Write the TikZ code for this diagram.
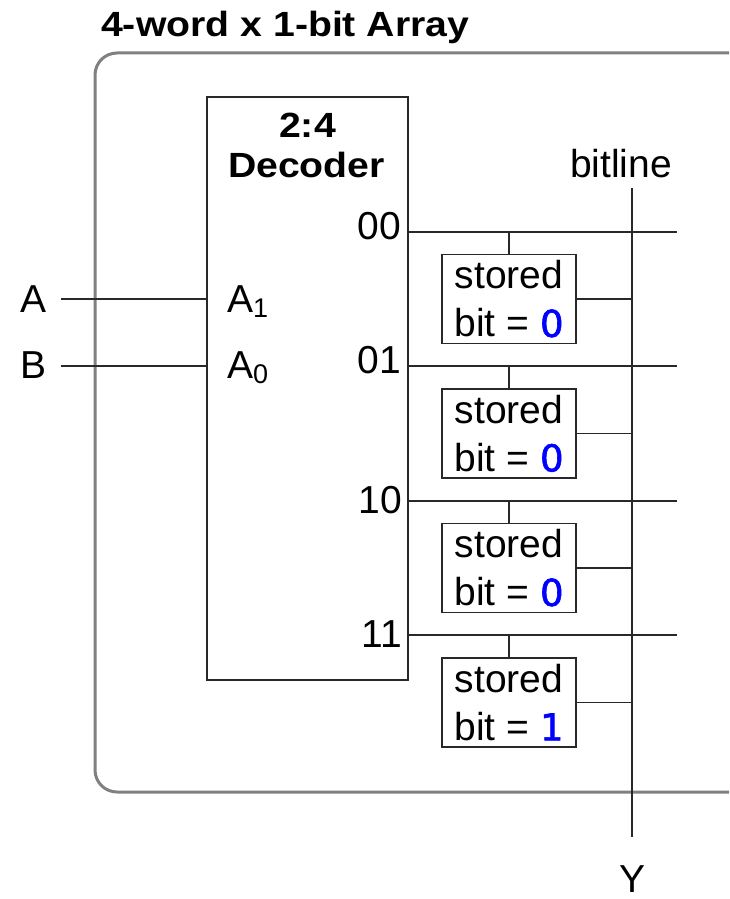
\documentclass[tikz,border=0pt]{standalone}
\usepackage{fontspec}
\setmainfont{Liberation Sans}
\newfontfamily\widebold{Liberation Sans}[FakeStretch=1.12]
\newfontfamily\bitfont{DejaVu Sans}[FakeBold=1.6]
\definecolor{bitblue}{RGB}{0,0,255}
\definecolor{framegray}{RGB}{128,128,128}
\definecolor{wiregray}{RGB}{40,40,40}
\newcommand{\bitv}[1]{{\bitfont\fontsize{37}{48}\selectfont\color{bitblue}#1}}
\newcommand{\subsc}[1]{\raisebox{-5pt}{\fontsize{27}{27}\selectfont #1}}
\begin{document}
\begin{tikzpicture}[x=1pt,y=-1pt,
  wire/.style={line width=1.3pt, draw=wiregray},
  txt/.style={font=\fontsize{39}{48}\selectfont, inner sep=0pt},
  btxt/.style={font=\widebold\bfseries\fontsize{35}{40}\selectfont, inner sep=0pt},
  decbox/.style={draw=wiregray, line width=1.3pt, minimum width=201pt, minimum height=583pt, inner sep=0pt},
  cell/.style={draw=wiregray, line width=1.3pt, minimum width=134pt, minimum height=89pt, inner sep=0pt, align=center, font=\fontsize{39}{48}\selectfont},
  frame/.style={draw=framegray, line width=3pt, rounded corners=22pt}]
\useasboundingbox (0,0) rectangle (729,899);
\clip (0,0) rectangle (729,899);
% title
\node[btxt, anchor=base west] (title) at (101,37) {4-word x 1-bit Array};
% outer frame
\draw[frame] (95,53) rectangle (752,792);
% decoder
\node[decbox] (dec) at (307.5,388.5) {};
\node[btxt, anchor=base] (dt1) at (307.5,137) {2:4};
\node[btxt, anchor=base] (dt2) at (306.5,177) {Decoder};
% inputs
\node[txt, anchor=base] (A) at (33.5,312) {A};
\node[txt, anchor=base] (B) at (33.5,378) {B};
\coordinate (ain) at (61,299);
\coordinate (bin) at (61,366);
\draw[wire] (ain) -- (ain -| dec.west);
\draw[wire] (bin) -- (bin -| dec.west);
\node[txt, anchor=base west] (A1) at (227,312) {A\subsc{1}};
\node[txt, anchor=base west] (A0) at (227,378) {A\subsc{0}};
% output labels
\node[txt, anchor=base east] (o00) at (401.5,239) {00};
\node[txt, anchor=base east] (o01) at (401.5,373) {01};
\node[txt, anchor=base east] (o10) at (402,513) {10};
\node[txt, anchor=base east] (o11) at (402,647) {11};
% bitline
\coordinate (bt) at (632,188);
\coordinate (bb) at (632,837);
\draw[wire] (bt) -- (bb);
\node[txt, anchor=base] (bl) at (621,177) {bitline};
\node[txt, anchor=base] (Y) at (632,892) {Y};
% rows
\foreach \i/\w/\c/\v in {1/232/299/0, 2/366/433.5/0, 3/501/568/0, 4/635/702.5/1}{
  \coordinate (ws\i) at (408,\w);
  \coordinate (we\i) at (677,\w);
  \draw[wire] (ws\i) -- (we\i);
  \node[cell] (c\i) at (509,\c) {stored\\bit = \bitv{\v}};
  \draw[wire] (c\i.north) -- (c\i.north |- ws\i);
  \draw[wire] (c\i.east) -- (c\i.east -| bt);
}
\end{tikzpicture}
\end{document}
